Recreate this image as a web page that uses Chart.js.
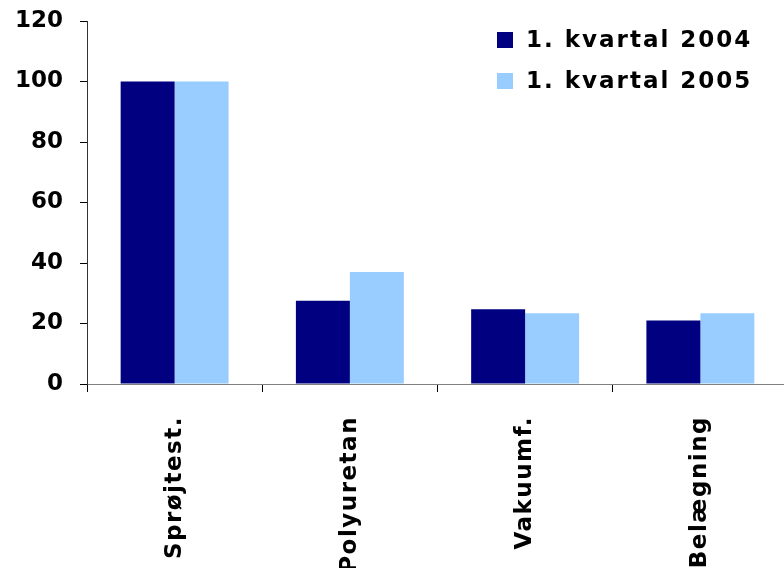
<!DOCTYPE html>
<html>
<head>
<meta charset="utf-8">
<script src="https://cdn.jsdelivr.net/npm/chart.js@4/dist/chart.umd.min.js"></script>
<style>
    html, body { margin: 0; padding: 0; background: #fff; overflow: hidden; }
    canvas { display: block; }
</style>
</head>
<body>
<canvas id="chart" width="790" height="568"></canvas>
<script>
// Data
const categories = ['Sprøjtest.', 'Polyuretan', 'Vakuumf.', 'Belægning'];
const seriesLabels = ['1. kvartal 2004', '1. kvartal 2005'];
const values2004 = [100, 27.5, 24.7, 21];
const values2005 = [100, 37, 23.4, 23.4];
const yTicks = [0, 20, 40, 60, 80, 100, 120];

const fontFamily = '"DejaVu Sans", Verdana, sans-serif';

// Legend in the top right corner of the plot
const cornerLegend = {
    id: 'cornerLegend',
    afterDraw(chart) {
        const ctx = chart.ctx;
        ctx.save();
        ctx.font = 'bold 23px ' + fontFamily;
        ctx.textBaseline = 'middle';
        ctx.letterSpacing = '2px';
        chart.data.datasets.forEach((ds, i) => {
            const y = 40 + i * 41;
            ctx.fillStyle = ds.backgroundColor;
            ctx.fillRect(497, y - 8, 16, 16);
            ctx.fillStyle = '#000';
            ctx.fillText(ds.label, 526, y + 1);
        });
        ctx.restore();
    }
};

Chart.defaults.font.family = fontFamily;
Chart.defaults.font.size = 23;
Chart.defaults.font.weight = 'bold';
Chart.defaults.color = '#000';

new Chart(document.getElementById('chart').getContext('2d'), {
    type: 'bar',
    data: {
        labels: categories,
        datasets: [
            { label: seriesLabels[0], data: values2004, backgroundColor: '#000080' },
            { label: seriesLabels[1], data: values2005, backgroundColor: '#99CCFF' }
        ]
    },
    options: {
        responsive: false,
        animation: false,
        categoryPercentage: 0.616,
        barPercentage: 1,
        layout: { padding: { top: 21, right: 2, left: 0, bottom: 0 } },
        plugins: {
            legend: { display: false },
            tooltip: { enabled: false }
        },
        scales: {
            x: {
                grid: { drawOnChartArea: false, tickLength: 8, color: '#000' },
                border: { color: '#808080' },
                ticks: { minRotation: 90, maxRotation: 90, autoSkip: false, padding: 24 },
                afterFit(scale) {
                    scale.height = 184;
                    // wider letters, like the original Verdana labels
                    if (!scale._spaced) {
                        const drawLabels = scale.drawLabels;
                        scale.drawLabels = function (area) {
                            this.ctx.save();
                            this.ctx.letterSpacing = '1.5px';
                            drawLabels.call(this, area);
                            this.ctx.restore();
                        };
                        scale._spaced = true;
                    }
                }
            },
            y: {
                min: 0,
                max: 120,
                afterBuildTicks(scale) { scale.ticks = yTicks.map(v => ({ value: v })); },
                grid: { drawOnChartArea: false, tickLength: 7, color: '#000' },
                border: { color: '#333' },
                ticks: { padding: 17 },
                afterFit(scale) {
                    scale.width = 87;
                    scale.paddingTop = 0;
                    scale.paddingBottom = 0;
                }
            }
        }
    },
    plugins: [cornerLegend]
});
</script>
</body>
</html>
